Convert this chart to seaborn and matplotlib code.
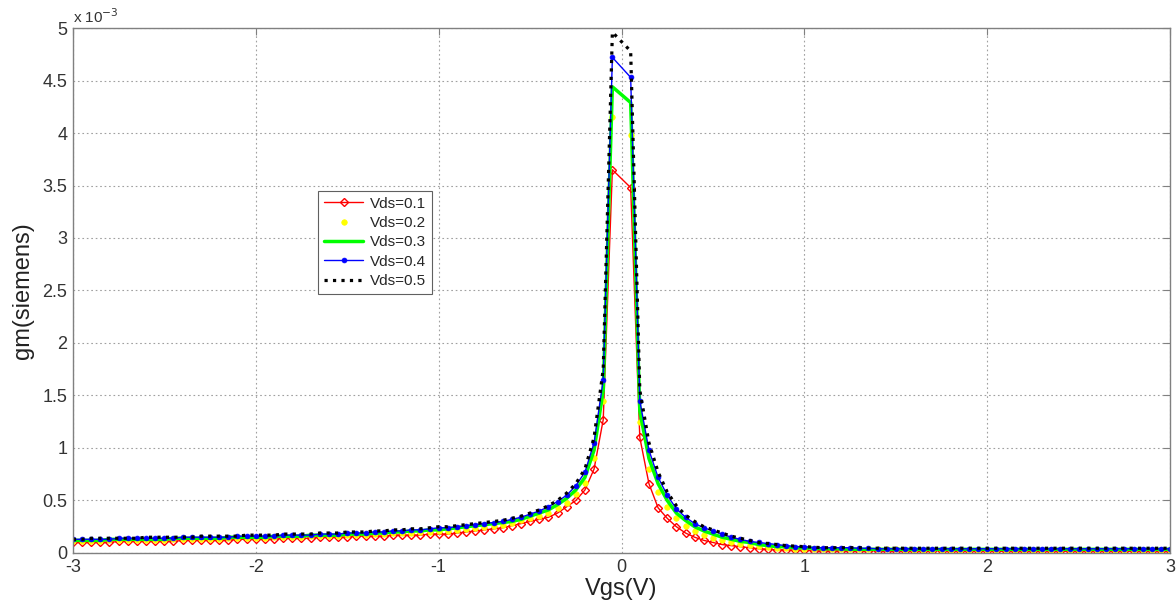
import matplotlib.pyplot as plt
import numpy as np
import pandas as pd
import seaborn as sns
from matplotlib.ticker import FuncFormatter, MultipleLocator

# gate sweep, -3..3 V in 0.05 V steps (no sample at 0 V)
vgs = [round(-3 + 0.05 * i, 2) for i in range(121) if i != 60]

# gm in units of 1e-3 S
gm_01 = [0.10, 0.10, 0.10, 0.10, 0.10, 0.11, 0.11, 0.11, 0.11, 0.11,
         0.11, 0.11, 0.12, 0.12, 0.12, 0.12, 0.12, 0.12, 0.13, 0.13,
         0.13, 0.13, 0.13, 0.14, 0.14, 0.14, 0.14, 0.15, 0.15, 0.15,
         0.15, 0.16, 0.16, 0.16, 0.16, 0.17, 0.17, 0.17, 0.17, 0.18,
         0.18, 0.18, 0.19, 0.20, 0.21, 0.22, 0.23, 0.24, 0.26, 0.28,
         0.30, 0.32, 0.34, 0.38, 0.44, 0.50, 0.60, 0.80, 1.27, 3.65,
         3.48, 1.10, 0.66, 0.43, 0.33, 0.25, 0.19, 0.15, 0.12, 0.10,
         0.08, 0.07, 0.06, 0.05, 0.04, 0.035, 0.03, 0.03, 0.025, 0.025,
         0.02, 0.02, 0.02, 0.02, 0.02, 0.02, 0.02, 0.02, 0.02, 0.02,
         0.02, 0.02, 0.02, 0.02, 0.02, 0.02, 0.02, 0.02, 0.02, 0.02,
         0.015, 0.015, 0.015, 0.015, 0.015, 0.015, 0.015, 0.015, 0.015, 0.015,
         0.015, 0.015, 0.015, 0.015, 0.015, 0.015, 0.015, 0.015, 0.015, 0.015]

gm_02 = [0.11, 0.11, 0.11, 0.11, 0.12, 0.12, 0.12, 0.12, 0.12, 0.12,
         0.12, 0.13, 0.13, 0.13, 0.13, 0.13, 0.13, 0.14, 0.14, 0.14,
         0.14, 0.14, 0.15, 0.15, 0.15, 0.15, 0.16, 0.16, 0.16, 0.16,
         0.17, 0.17, 0.17, 0.18, 0.18, 0.19, 0.19, 0.19, 0.20, 0.20,
         0.21, 0.21, 0.22, 0.23, 0.24, 0.25, 0.26, 0.27, 0.29, 0.31,
         0.33, 0.35, 0.38, 0.43, 0.48, 0.56, 0.67, 0.90, 1.45, 4.15,
         3.98, 1.25, 0.80, 0.58, 0.44, 0.33, 0.26, 0.21, 0.17, 0.14,
         0.12, 0.10, 0.09, 0.08, 0.07, 0.06, 0.05, 0.05, 0.04, 0.04,
         0.035, 0.035, 0.035, 0.035, 0.035, 0.035, 0.035, 0.035, 0.035, 0.035,
         0.03, 0.03, 0.03, 0.03, 0.03, 0.03, 0.03, 0.03, 0.03, 0.03,
         0.03, 0.03, 0.03, 0.03, 0.03, 0.03, 0.03, 0.03, 0.03, 0.03,
         0.03, 0.03, 0.03, 0.03, 0.03, 0.03, 0.03, 0.03, 0.03, 0.03]

gm_03 = [0.12, 0.12, 0.12, 0.12, 0.13, 0.13, 0.13, 0.13, 0.13, 0.13,
         0.13, 0.14, 0.14, 0.14, 0.14, 0.14, 0.14, 0.15, 0.15, 0.15,
         0.15, 0.15, 0.16, 0.16, 0.16, 0.16, 0.17, 0.17, 0.17, 0.17,
         0.18, 0.18, 0.18, 0.19, 0.19, 0.20, 0.20, 0.21, 0.21, 0.22,
         0.22, 0.23, 0.24, 0.25, 0.26, 0.27, 0.28, 0.29, 0.30, 0.32,
         0.35, 0.38, 0.41, 0.46, 0.52, 0.60, 0.72, 0.98, 1.55, 4.44,
         4.29, 1.35, 0.90, 0.66, 0.50, 0.38, 0.31, 0.25, 0.21, 0.18,
         0.15, 0.13, 0.11, 0.10, 0.08, 0.07, 0.06, 0.06, 0.05, 0.05,
         0.045, 0.04, 0.04, 0.04, 0.035, 0.035, 0.035, 0.035, 0.035, 0.035,
         0.035, 0.035, 0.035, 0.035, 0.035, 0.035, 0.035, 0.035, 0.035, 0.035,
         0.035, 0.035, 0.035, 0.035, 0.035, 0.035, 0.035, 0.035, 0.035, 0.035,
         0.035, 0.035, 0.035, 0.035, 0.035, 0.035, 0.035, 0.035, 0.035, 0.035]

gm_04 = [0.13, 0.13, 0.13, 0.13, 0.13, 0.14, 0.14, 0.14, 0.14, 0.14,
         0.14, 0.14, 0.15, 0.15, 0.15, 0.15, 0.15, 0.15, 0.16, 0.16,
         0.16, 0.16, 0.16, 0.17, 0.17, 0.17, 0.17, 0.18, 0.18, 0.18,
         0.19, 0.19, 0.19, 0.20, 0.20, 0.21, 0.21, 0.22, 0.22, 0.23,
         0.24, 0.24, 0.25, 0.26, 0.27, 0.28, 0.29, 0.30, 0.32, 0.34,
         0.37, 0.40, 0.44, 0.49, 0.55, 0.64, 0.77, 1.05, 1.65, 4.72,
         4.53, 1.45, 0.98, 0.72, 0.55, 0.42, 0.34, 0.28, 0.24, 0.21,
         0.18, 0.15, 0.13, 0.11, 0.10, 0.09, 0.08, 0.07, 0.06, 0.06,
         0.05, 0.05, 0.05, 0.05, 0.05, 0.045, 0.045, 0.04, 0.04, 0.04,
         0.04, 0.04, 0.04, 0.04, 0.04, 0.04, 0.04, 0.04, 0.04, 0.04,
         0.04, 0.04, 0.04, 0.04, 0.04, 0.04, 0.04, 0.04, 0.04, 0.04,
         0.04, 0.04, 0.04, 0.04, 0.04, 0.04, 0.04, 0.04, 0.04, 0.04]

gm_05 = [0.13, 0.13, 0.14, 0.14, 0.14, 0.14, 0.14, 0.14, 0.15, 0.15,
         0.15, 0.15, 0.15, 0.15, 0.16, 0.16, 0.16, 0.16, 0.16, 0.17,
         0.17, 0.17, 0.17, 0.18, 0.18, 0.18, 0.18, 0.19, 0.19, 0.19,
         0.20, 0.20, 0.20, 0.21, 0.21, 0.22, 0.22, 0.23, 0.23, 0.24,
         0.25, 0.25, 0.26, 0.27, 0.28, 0.29, 0.30, 0.31, 0.33, 0.35,
         0.38, 0.41, 0.45, 0.50, 0.57, 0.66, 0.80, 1.10, 1.75, 4.96,
         4.78, 1.55, 1.05, 0.77, 0.58, 0.45, 0.36, 0.30, 0.25, 0.22,
         0.19, 0.16, 0.14, 0.12, 0.10, 0.09, 0.08, 0.07, 0.065, 0.06,
         0.055, 0.05, 0.05, 0.05, 0.05, 0.05, 0.045, 0.045, 0.045, 0.045,
         0.045, 0.045, 0.045, 0.045, 0.045, 0.045, 0.045, 0.045, 0.045, 0.045,
         0.045, 0.045, 0.045, 0.045, 0.045, 0.045, 0.045, 0.045, 0.045, 0.045,
         0.045, 0.045, 0.045, 0.045, 0.045, 0.045, 0.045, 0.045, 0.045, 0.045]

labels = ['Vds=0.1', 'Vds=0.2', 'Vds=0.3', 'Vds=0.4', 'Vds=0.5']
series = [gm_01, gm_02, gm_03, gm_04, gm_05]

df = pd.DataFrame({'Vgs': vgs * 5,
                   'gm': sum(series, []),
                   'Vds': np.repeat(labels, len(vgs))})

sns.set_theme(style='white')
plt.rcParams['font.family'] = ['Liberation Sans', 'DejaVu Sans']
plt.rcParams['axes.unicode_minus'] = False

fig = plt.figure(figsize=(11.76, 6.09), dpi=100)
ax = fig.add_axes([0.062, 0.092, 0.933, 0.862])

styles = {
    'Vds=0.1': dict(color='#ff0000', marker='D', markersize=4.5, markerfacecolor='none',
                    markeredgecolor='#ff0000', markeredgewidth=1.0, linewidth=1.0, linestyle='-'),
    'Vds=0.2': dict(color='#ffff00', marker='.', markersize=8, markerfacecolor='#ffff00',
                    markeredgecolor='#ffff00', markeredgewidth=0.5, linewidth=0, linestyle='none'),
    'Vds=0.3': dict(color='#00ff00', linewidth=2.5, linestyle='-'),
    'Vds=0.4': dict(color='#0000ff', marker='.', markersize=7, markerfacecolor='#0000ff',
                    markeredgecolor='#0000ff', markeredgewidth=0.5, linewidth=1.0, linestyle='-'),
    'Vds=0.5': dict(color='#000000', linewidth=2.3, linestyle=':'),
}

for lab in labels:
    sub = df[df['Vds'] == lab]
    sns.lineplot(data=sub, x='Vgs', y='gm', ax=ax, label=lab, sort=False,
                 errorbar=None, **styles[lab])

ax.set_xlim(-3, 3)
ax.set_ylim(0, 5)
ax.xaxis.set_major_locator(MultipleLocator(1))
ax.yaxis.set_major_locator(MultipleLocator(0.5))
ax.yaxis.set_major_formatter(FuncFormatter(lambda v, p: '%g' % v))
ax.xaxis.set_major_formatter(FuncFormatter(lambda v, p: '%g' % v))

ax.grid(True, linestyle=(0, (1.5, 2.5)), color='#a0a0a0', linewidth=0.8)
for sp in ax.spines.values():
    sp.set_color('#808080')
    sp.set_linewidth(1.0)
ax.tick_params(direction='in', top=True, right=True, length=5, width=0.8,
               color='#808080', labelsize=13, labelcolor='#333333', pad=4)

ax.set_xlabel('Vgs(V)', fontsize=17, color='#222222', labelpad=2)
ax.set_ylabel('gm(siemens)', fontsize=17, color='#222222', labelpad=6)
ax.text(0.0, 1.004, r'x 10$^{-3}$', transform=ax.transAxes, ha='left', va='bottom',
        fontsize=11, color='#333333')

leg = ax.legend(loc='upper left', bbox_to_anchor=(0.216, 0.705), fontsize=11,
                frameon=True, fancybox=False, framealpha=1, edgecolor='#606060',
                handlelength=2.6, borderpad=0.4, labelspacing=0.35, handletextpad=0.4)
leg.get_frame().set_linewidth(0.8)

fig.savefig('out.png', dpi=100)
